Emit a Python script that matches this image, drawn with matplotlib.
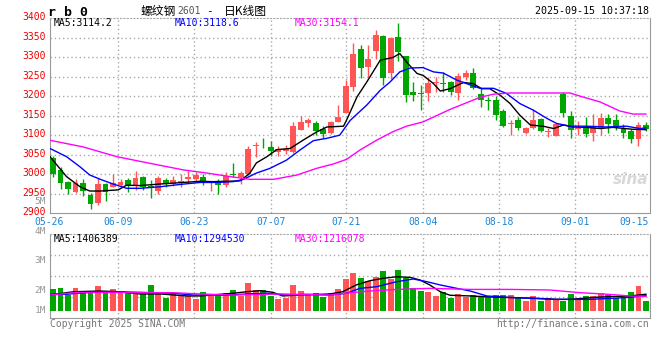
import numpy as np
import matplotlib
matplotlib.use('Agg')
import matplotlib.pyplot as plt
import matplotlib.transforms as mtransforms

# daily K data rb0, 2025-05-26 .. 2025-09-15
opens = [3042, 3011, 2981, 2955, 2977, 2948, 2926, 2975, 2968, 2972,
         2985, 2972, 2994, 2971, 2958, 2985, 2975, 2979, 2987, 2988,
         2994, 2977, 2978, 2972, 3000, 2992, 3000, 3072, 3071, 3070,
         3058, 3059, 3058, 3113, 3132, 3130, 3115, 3105, 3134, 3157,
         3224, 3320, 3275, 3315, 3353, 3258, 3351, 3302, 3211, 3207,
         3208, 3234, 3233, 3236, 3208, 3249, 3260, 3205, 3189, 3190,
         3162, 3129, 3139, 3106, 3119, 3141, 3109, 3098, 3205, 3149,
         3116, 3123, 3105, 3117, 3145, 3139, 3115, 3111, 3090, 3126]
closes = [3001, 2978, 2962, 2978, 2957, 2925, 2975, 2955, 2977, 2981,
          2971, 2990, 2968, 2968, 2990, 2977, 2985, 2982, 2994, 2998,
          2977, 2979, 2972, 2995, 2997, 3004, 3065, 3073, 3069, 3060,
          3064, 3064, 3123, 3133, 3140, 3111, 3103, 3133, 3147, 3225,
          3307, 3273, 3294, 3356, 3247, 3349, 3313, 3204, 3202, 3205,
          3234, 3235, 3231, 3211, 3251, 3258, 3221, 3190, 3187, 3151,
          3123, 3131, 3119, 3119, 3139, 3111, 3111, 3128, 3157, 3113,
          3118, 3103, 3124, 3144, 3128, 3121, 3106, 3090, 3126, 3117]
highs = [3046, 3019, 2983, 2987, 2987, 2953, 2990, 2977, 3000, 2987,
         2990, 3008, 2995, 2985, 2995, 2991, 2995, 3000, 3009, 3006,
         3001, 2981, 2987, 3005, 3028, 3009, 3072, 3083, 3094, 3086,
         3072, 3075, 3133, 3149, 3144, 3136, 3123, 3136, 3177, 3241,
         3335, 3330, 3330, 3369, 3356, 3351, 3386, 3302, 3236, 3228,
         3250, 3248, 3262, 3239, 3258, 3268, 3273, 3220, 3197, 3200,
         3168, 3140, 3147, 3121, 3166, 3143, 3119, 3132, 3211, 3162,
         3136, 3147, 3154, 3156, 3153, 3153, 3128, 3117, 3134, 3134]
lows = [2994, 2962, 2949, 2951, 2945, 2910, 2921, 2931, 2967, 2967,
        2955, 2960, 2960, 2938, 2950, 2968, 2970, 2968, 2977, 2981,
        2972, 2957, 2950, 2968, 2992, 2976, 2999, 3045, 3066, 3046,
        3046, 3052, 3054, 3113, 3120, 3100, 3092, 3102, 3134, 3156,
        3213, 3247, 3248, 3296, 3228, 3245, 3290, 3185, 3187, 3164,
        3187, 3211, 3211, 3202, 3190, 3241, 3219, 3171, 3164, 3140,
        3120, 3100, 3113, 3104, 3117, 3108, 3096, 3097, 3147, 3094,
        3100, 3096, 3085, 3100, 3105, 3113, 3092, 3079, 3073, 3111]
# volume, millions
volumes = [1.85, 1.94, 1.34, 1.94, 1.62, 1.62, 2.11, 1.54, 1.85, 1.62,
           1.62, 1.54, 1.40, 2.20, 1.49, 1.11, 1.40, 1.26, 1.26, 1.00,
           1.62, 1.26, 1.26, 1.54, 1.77, 1.26, 2.39, 1.77, 1.77, 1.26,
           1.00, 1.11, 2.20, 1.71, 1.34, 1.49, 1.20, 1.54, 1.85, 2.70,
           3.25, 2.82, 2.54, 2.90, 3.39, 2.70, 3.48, 2.77, 1.97, 1.71,
           1.62, 1.26, 1.62, 1.11, 1.43, 1.20, 1.34, 1.26, 1.20, 1.34,
           1.34, 1.34, 1.20, 0.85, 1.26, 0.85, 1.06, 0.97, 0.85, 1.43,
           0.97, 1.26, 1.26, 1.49, 1.34, 1.11, 1.20, 1.62, 2.11, 0.85]

# moving averages (candle index, value)
ma5_x = [-0.4, 1.8, 3.6, 4.9, 6.3, 8.7, 9.8, 11.6, 14.3, 17.4, 19.6, 21.3, 24.9, 26.2,
         27.1, 28.5, 29.8, 31.6, 33.3, 35.1, 36.5, 38.7, 39.1, 40.5, 41.8, 43.6, 45.3,
         46.2, 47.3, 48.5, 49.3, 50.7, 51.6, 52.9, 54.7, 56.0, 57.1, 58.2, 59.6, 60.9,
         62.2, 63.6, 65.3, 66.7, 68.0, 69.3, 71.1, 72.9, 74.6, 77.3, 79]
ma5_v = [3045, 2994, 2968, 2957, 2957, 2960, 2972, 2971, 2975, 2979, 2982, 2981, 2983, 3002,
         3029, 3045, 3063, 3066, 3087, 3108, 3121, 3123, 3138, 3198, 3236, 3292, 3299,
         3309, 3283, 3258, 3253, 3232, 3213, 3219, 3235, 3232, 3219, 3219, 3202, 3181,
         3151, 3126, 3123, 3117, 3126, 3121, 3120, 3117, 3120, 3115, 3114.2]
ma10_x = [-0.4, 1.8, 3.6, 4.9, 6.3, 8.0, 9.8, 11.6, 14.3, 17.0, 19.6, 21.8, 24.0, 25.4,
          27.1, 28.9, 31.1, 32.9, 34.7, 36.5, 38.2, 39.6, 41.8, 43.6, 44.9, 46.2, 47.6,
          49.3, 50.7, 52.0, 53.8, 55.1, 56.9, 58.7, 60.4, 62.2, 64.0, 65.8, 67.1, 68.9,
          71.1, 73.8, 76.4, 78.2, 79]
ma10_v = [3066, 3045, 3019, 2998, 2987, 2975, 2964, 2964, 2968, 2974, 2979, 2979, 2981, 2987,
          3003, 3015, 3036, 3062, 3086, 3092, 3100, 3138, 3177, 3215, 3236, 3262, 3272,
          3273, 3262, 3259, 3241, 3232, 3220, 3220, 3207, 3181, 3164, 3143, 3130, 3123,
          3123, 3121, 3123, 3117, 3118.6]
ma30_x = [-0.4, 4.0, 8.5, 12.9, 17.4, 20.5, 23.6, 26.2, 29.4, 32.5, 35.1, 37.3, 39.1, 40.9,
          43.1, 45.3, 47.1, 49.3, 52.9, 55.1, 56.9, 58.7, 60.9, 68.9, 70.2, 72.9, 75.5,
          77.3, 79]
ma30_v = [3087, 3070, 3045, 3028, 3011, 3003, 2994, 2987, 2987, 2998, 3015, 3026, 3038, 3062,
          3087, 3109, 3123, 3134, 3166, 3183, 3197, 3205, 3208, 3208, 3200, 3185, 3162,
          3154, 3154.1]

vma5_x = [-0.4, 2.7, 6.3, 8.9, 11.6, 14.3, 17.9, 19.6, 24.0, 25.8, 27.6, 29.3, 30.6, 32.9,
          36.9, 38.6, 40.4, 42.2, 44.0, 45.8, 47.6, 48.9, 50.2, 51.6, 52.9, 55.6, 59.1,
          61.8, 64.4, 67.1, 68.9, 70.7, 72.4, 74.2, 76.9, 79]
vma5_v = [1.34, 1.62, 1.68, 1.62, 1.43, 1.43, 1.26, 1.26, 1.49, 1.62, 1.71, 1.57, 1.26, 1.34,
          1.43, 1.62, 2.20, 2.56, 2.77, 2.90, 2.85, 2.62, 2.20, 1.62, 1.32, 1.26, 1.15,
          1.11, 1.06, 0.97, 0.97, 1.06, 1.15, 1.20, 1.26, 1.41]
vma10_x = [-0.4, 1.8, 3.2, 6.3, 8.9, 12.9, 16.0, 18.7, 23.2, 25.8, 28.5, 31.2, 33.8, 36.9,
           39.1, 40.9, 43.1, 45.8, 48.0, 49.8, 51.6, 53.8, 55.6, 57.8, 60.4, 63.5, 67.0,
           71.5, 74.6, 76.9, 79]
vma10_v = [1.40, 1.40, 1.49, 1.62, 1.62, 1.54, 1.49, 1.34, 1.32, 1.43, 1.49, 1.34, 1.40, 1.34,
           1.49, 1.91, 2.05, 2.48, 2.71, 2.48, 2.20, 1.91, 1.68, 1.26, 1.15, 1.06, 0.97,
           0.97, 1.06, 1.15, 1.29]
vma30_x = [-0.4, 3.2, 8.5, 16.0, 19.6, 24.0, 30.2, 36.9, 39.6, 42.2, 45.8, 50.2, 55.6, 60.9,
           66.2, 70.2, 73.3, 76.9, 79]
vma30_v = [1.34, 1.56, 1.56, 1.54, 1.43, 1.34, 1.43, 1.34, 1.54, 1.68, 1.82, 1.91, 1.82, 1.82,
           1.77, 1.54, 1.43, 1.26, 1.22]

date_labels = ['06-09', '06-23', '07-07', '07-21', '08-04', '08-18', '09-01']
date_pos = [8.66, 18.8, 29.0, 39.1, 49.25, 59.4, 69.5]

RED = '#ff5555'
GREEN = '#00a600'
GRID = '#aaaaaa'
MONO = 'DejaVu Sans Mono'
CJK = ['Noto Sans CJK SC', 'DejaVu Sans']

W, H = 660, 360
fig = plt.figure(figsize=(6.6, 3.6), dpi=100)
fig.patch.set_facecolor('white')


def px(x, y):
    return x / W, 1 - y / H


ax = fig.add_axes([50 / W, 1 - 213.3 / H, 600 / W, (213.3 - 18) / H])
ax2 = fig.add_axes([50 / W, 1 - 318 / H, 600 / W, (318 - 234.3) / H])

n = len(opens)
x = np.arange(n)
o = np.array(opens, float)
c = np.array(closes, float)
up = c >= o
cols = np.where(up, RED, GREEN)

# candles
ax.vlines(x, lows, highs, colors=cols, linewidth=1, zorder=3)
body_lo = np.minimum(o, c)
body_h = np.maximum(np.abs(c - o), 2.0)
ax.bar(x, body_h, bottom=body_lo, width=0.78, color=cols, linewidth=0, zorder=4)

ax.plot(ma5_x, ma5_v, color='black', lw=1, zorder=5)
ax.plot(ma10_x, ma10_v, color='#0000ff', lw=1, zorder=5)
ax.plot(ma30_x, ma30_v, color='#ff00ff', lw=1, zorder=5)

ax.set_xlim(-0.4, 79.54)
ax.set_ylim(2900, 3400)
ax.set_yticks(np.arange(2900, 3401, 50))
ax.set_yticklabels([str(v) for v in range(2900, 3401, 50)], color='#ee0000',
                   fontsize=7, family=MONO)
ax.tick_params(axis='y', length=0, pad=3)
# sina puts the price labels a little above the grid lines
lift = mtransforms.ScaledTranslation(0, 2 / 100, fig.dpi_scale_trans)
for lab in ax.get_yticklabels():
    lab.set_transform(lab.get_transform() + lift)
ax.set_xticks([])
for v in range(2950, 3400, 50):
    ax.axhline(v, color=GRID, lw=1, ls=(0, (1, 2)), zorder=1)
for p in date_pos:
    ax.axvline(p, color=GRID, lw=1, ls=(0, (1, 2)), zorder=1)
    ax2.axvline(p, color=GRID, lw=1, ls=(0, (1, 2)), zorder=1)
for s in ['left', 'right', 'bottom']:
    ax.spines[s].set_color('#999999')
ax.spines['top'].set_color(GRID)
ax.spines['top'].set_linestyle((0, (1, 2)))

# volume
ax2.bar(x, volumes, width=0.78, color=cols, linewidth=0, zorder=3)
ax2.plot(vma5_x, vma5_v, color='black', lw=1, zorder=5)
ax2.plot(vma10_x, vma10_v, color='#0000ff', lw=1, zorder=5)
ax2.plot(vma30_x, vma30_v, color='#ff00ff', lw=1, zorder=5)
ax2.set_xlim(-0.4, 79.54)
ax2.set_ylim(-0.624, 6.53)
ax2.set_xticks([])
ax2.set_yticks([])
for f in [0.25, 0.5, 0.75]:
    ax2.axhline(ax2.get_ylim()[0] + f * (ax2.get_ylim()[1] - ax2.get_ylim()[0]),
                color=GRID, lw=1, ls=(0, (1, 2)), zorder=1)
for s in ['left', 'right', 'bottom']:
    ax2.spines[s].set_color('#999999')
ax2.spines['top'].set_color(GRID)
ax2.spines['top'].set_linestyle((0, (1, 2)))

# volume axis labels (sina style)
for lab, yy in [('4M', 231), ('3M', 260.5), ('2M', 290.5), ('1M', 310.5), ('5M', 201.5)]:
    fig.text(*px(46, yy), lab, ha='right', va='center', fontsize=6.8, family=MONO,
             color='#999999')

# date labels
tr = mtransforms.blended_transform_factory(ax.transData, fig.transFigure)
for lab, p in zip(date_labels, date_pos):
    ax.text(p, 1 - 222 / H, lab, transform=tr, ha='center', va='center',
            fontsize=7, family=MONO, color='#1a85d6')
fig.text(*px(49, 222), '05-26', ha='center', va='center', fontsize=7, family=MONO,
         color='#1a85d6')
fig.text(*px(649, 222), '09-15', ha='right', va='center', fontsize=7, family=MONO,
         color='#1a85d6')

# legends
fig.text(*px(54, 23), 'MA5:3114.2', va='center', fontsize=7, family=MONO, color='black')
fig.text(*px(175, 23), 'MA10:3118.6', va='center', fontsize=7, family=MONO, color='#0000ff')
fig.text(*px(295, 23), 'MA30:3154.1', va='center', fontsize=7, family=MONO, color='#ff00ff')
fig.text(*px(54, 238.5), 'MA5:1406389', va='center', fontsize=7, family=MONO, color='black')
fig.text(*px(175, 238.5), 'MA10:1294530', va='center', fontsize=7, family=MONO,
         color='#0000ff')
fig.text(*px(295, 238.5), 'MA30:1216078', va='center', fontsize=7, family=MONO,
         color='#ff00ff')

# title
fig.text(*px(48, 12), 'r b 0', va='center', fontsize=9.5, family=MONO, weight='bold',
         color='black')
fig.text(*px(141, 11.5), '螺纹钢', va='center', fontsize=8.5, family=CJK, color='black')
fig.text(*px(177, 11.5), '2601', va='center', fontsize=7, family=MONO, color='#555555')
fig.text(*px(206, 11.5), '-', va='center', fontsize=8, family=MONO, color='black')
fig.text(*px(224, 11.5), '日K线图', va='center', fontsize=8.5, family=CJK, color='black')
fig.text(*px(649, 11.5), '2025-09-15 10:37:18', ha='right', va='center', fontsize=7.2,
         family=MONO, color='black')

# footer
fig.text(*px(50, 324), 'Copyright 2025 SINA.COM', va='center', fontsize=7, family=MONO,
         color='#777777')
fig.text(*px(649, 324), 'http://finance.sina.com.cn', ha='right', va='center',
         fontsize=7, family=MONO, color='#777777')

# watermark
fig.text(*px(648, 180), 'sina', ha='right', va='center', fontsize=11, style='italic',
         weight='bold', color='#d8d8d8', zorder=0)

fig.savefig('out.png', dpi=100, facecolor='white')
